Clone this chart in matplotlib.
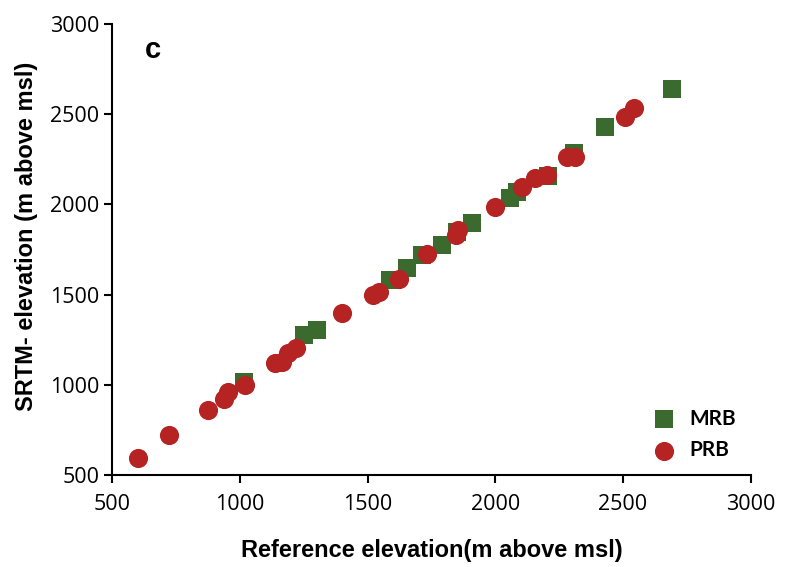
import matplotlib.pyplot as plt
from matplotlib import font_manager

# MRB (green squares) and PRB (red circles)
mrb_ref = [1018, 1252, 1301, 1588, 1654, 1713, 1791, 1850, 1908, 2058, 2085, 2208, 2309, 2430, 2691]
mrb_srtm = [1017, 1276, 1304, 1581, 1646, 1719, 1775, 1849, 1895, 2034, 2070, 2157, 2283, 2431, 2638]

prb_ref = [600, 725, 875, 938, 955, 1021, 1138, 1164, 1190, 1220, 1399, 1523, 1543, 1625,
           1732, 1847, 1854, 2000, 2104, 2156, 2202, 2280, 2313, 2509, 2541]
prb_srtm = [595, 722, 860, 921, 962, 997, 1119, 1128, 1175, 1202, 1400, 1498, 1516, 1585,
            1725, 1830, 1858, 1987, 2098, 2145, 2163, 2264, 2261, 2486, 2533]

green = '#3a6a2e'
red = '#b52323'

fams = set(f.name for f in font_manager.fontManager.ttflist)


def pick(*names):
    for n in names:
        if n in fams:
            return n
    return 'DejaVu Sans'


tick_font = pick('Open Sans', 'Noto Sans', 'Liberation Sans')
label_font = pick('Liberation Sans', 'Arimo', 'Arial')
legend_font = pick('Lato', 'Open Sans', 'Liberation Sans')

fig = plt.figure(figsize=(7.87, 5.67), dpi=100)
ax = fig.add_axes([0.1423, 0.1623, 0.8117, 0.7954])

ax.scatter(mrb_ref, mrb_srtm, marker='s', s=150, color=green, label='MRB', zorder=2, linewidths=0)
ax.scatter(prb_ref, prb_srtm, marker='o', s=190, color=red, label='PRB', zorder=3, linewidths=0)

ax.set_xlim(500, 3000)
ax.set_ylim(500, 3000)
ax.set_xticks(range(500, 3001, 500))
ax.set_yticks(range(500, 3001, 500))

for s in ['top', 'right']:
    ax.spines[s].set_visible(False)
for s in ['left', 'bottom']:
    ax.spines[s].set_linewidth(1.5)
ax.tick_params(direction='out', length=6, width=1.5)
ax.tick_params(axis='x', pad=8)
ax.tick_params(axis='y', pad=3)
for lab in ax.get_xticklabels() + ax.get_yticklabels():
    lab.set_fontfamily(tick_font)
    lab.set_fontsize(15.5)

ax.set_xlabel('Reference elevation(m above msl)', fontsize=17, fontweight='bold',
              family=label_font, labelpad=17)
ax.set_ylabel('SRTM- elevation (m above msl)', fontsize=17, fontweight='bold',
              family=label_font)
ax.yaxis.set_label_coords(-0.116, 0.529)

ax.text(0.064, 0.942, 'c', transform=ax.transAxes, fontsize=21, fontweight='bold',
        family=label_font, ha='center', va='center')

ax.legend(loc='center left', bbox_to_anchor=(0.844, 0.09), frameon=False,
          prop={'family': legend_font, 'weight': 'bold', 'size': 15},
          borderpad=0, borderaxespad=0, handlelength=1.2, handletextpad=0.65,
          labelspacing=0.55, scatterpoints=1)

fig.savefig('out.png', dpi=100)
